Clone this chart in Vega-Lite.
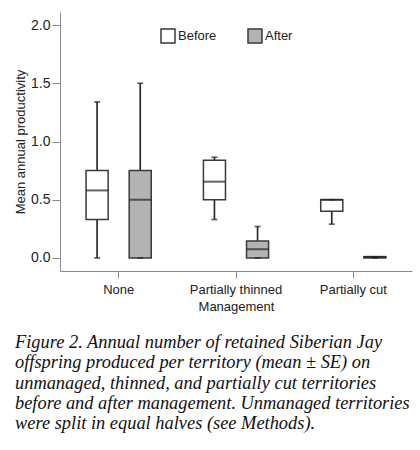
{
  "$schema": "https://vega.github.io/schema/vega-lite/v6.json",
  "width": 352,
  "height": 259,
  "autosize": {"type": "none"},
  "padding": {"left": 60, "top": 12, "right": 8, "bottom": 179},
  "background": "white",
  "config": {
    "view": {"stroke": null},
    "font": "Liberation Sans",
    "axis": {"grid": false, "domainColor": "#8a8a8a", "tickColor": "#8a8a8a", "labelColor": "#222", "titleColor": "#222", "titleFontWeight": "normal", "labelFont": "Liberation Sans", "titleFont": "Liberation Sans"}
  },
  "title": {
    "text": [
      "Figure 2.  Annual number of retained Siberian Jay",
      "offspring produced per territory (mean ± SE) on",
      "unmanaged, thinned, and partially cut territories",
      "before and after management. Unmanaged territories",
      "were split in equal halves (see Methods)."
    ],
    "orient": "bottom",
    "anchor": "start",
    "frame": "group",
    "dx": -45,
    "offset": 20,
    "font": "Liberation Serif",
    "fontStyle": "italic",
    "fontWeight": "normal",
    "fontSize": 18.4,
    "lineHeight": 20.3,
    "color": "#111"
  },
  "data": {
    "values": [
      {"Management": "None", "Period": "Before", "min": 0, "q1": 0.33, "median": 0.58, "q3": 0.75, "max": 1.34},
      {"Management": "None", "Period": "After", "min": 0, "q1": 0, "median": 0.5, "q3": 0.75, "max": 1.5},
      {"Management": "Partially thinned", "Period": "Before", "min": 0.33, "q1": 0.5, "median": 0.655, "q3": 0.84, "max": 0.865},
      {"Management": "Partially thinned", "Period": "After", "min": 0, "q1": 0, "median": 0.075, "q3": 0.145, "max": 0.27},
      {"Management": "Partially cut", "Period": "Before", "min": 0.29, "q1": 0.4, "median": 0.5, "q3": 0.5, "max": 0.5},
      {"Management": "Partially cut", "Period": "After", "min": 0, "q1": 0, "median": 0.01, "q3": 0.01, "max": 0.01}
    ]
  },
  "encoding": {
    "x": {
      "field": "Management", "type": "nominal",
      "sort": ["None", "Partially thinned", "Partially cut"],
      "scale": {"paddingInner": 0, "paddingOuter": 0},
      "axis": {"labelAngle": 0, "tickSize": 7, "labelPadding": 5, "labelFontSize": 13, "title": "Management", "titleFontSize": 13, "titlePadding": 4}
    },
    "xOffset": {
      "field": "Period", "type": "nominal",
      "sort": ["Before", "After"],
      "scale": {"paddingInner": 0.488, "paddingOuter": 0.6045}
    }
  },
  "layer": [
    {
      "mark": {"type": "rule", "stroke": "#2a2a2a", "strokeWidth": 1.7},
      "encoding": {
        "y": {"field": "min", "type": "quantitative",
          "scale": {"domain": [-0.112, 2.112], "nice": false, "zero": false},
          "axis": {"values": [0, 0.5, 1, 1.5, 2], "format": ".1f", "tickSize": 8, "labelPadding": 2, "labelFontSize": 14, "title": "Mean annual productivity", "titleFontSize": 13, "titlePadding": 3}},
        "y2": {"field": "max"}
      }
    },
    {
      "mark": {"type": "bar", "stroke": "#3a3a3a", "strokeWidth": 1.5},
      "encoding": {
        "y": {"field": "q1", "type": "quantitative"},
        "y2": {"field": "q3"},
        "fill": {
          "field": "Period", "type": "nominal",
          "sort": ["Before", "After"],
          "scale": {"domain": ["Before", "After"], "range": ["white", "#b3b3b3"]},
          "legend": {
            "title": null, "orient": "none", "direction": "horizontal",
            "legendX": 100, "legendY": 16,
            "symbolType": "square", "symbolSize": 196, "symbolStrokeColor": "#3a3a3a", "symbolStrokeWidth": 1.5,
            "labelFontSize": 13, "labelColor": "#222", "labelOffset": 2, "columnPadding": 28
          }
        }
      }
    },
    {
      "mark": {"type": "tick", "color": "#222", "thickness": 2, "size": 22},
      "encoding": {"y": {"field": "median", "type": "quantitative"}}
    },
    {
      "mark": {"type": "tick", "color": "#222", "thickness": 1.7, "size": 6},
      "encoding": {"y": {"field": "max", "type": "quantitative"}}
    },
    {
      "mark": {"type": "tick", "color": "#222", "thickness": 1.7, "size": 6},
      "encoding": {"y": {"field": "min", "type": "quantitative"}}
    }
  ]
}
